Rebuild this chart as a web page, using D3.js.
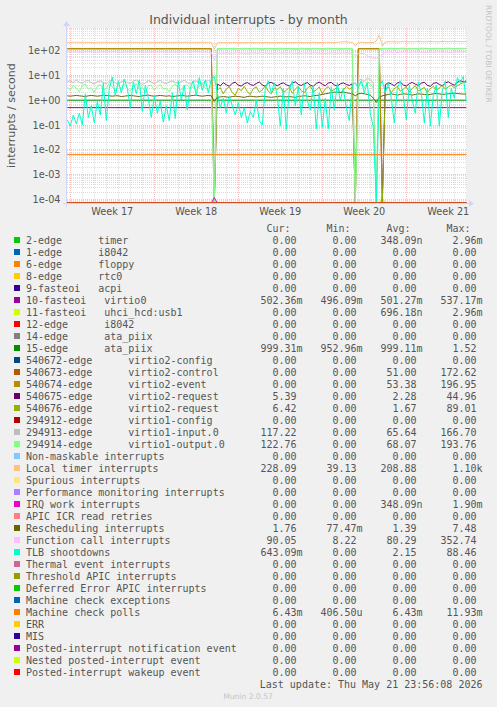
<!DOCTYPE html>
<html><head><meta charset="utf-8">
<script src="https://cdn.jsdelivr.net/npm/d3@7"></script>
<style>
html,body{margin:0;padding:0;background:#F0F0F0;}
svg{display:block;}
text{white-space:pre;}
</style></head><body>
<svg id="chart" width="497" height="707"></svg>
<script>
// ---------- time axis ----------
const xDomain = [new Date(2026,3,18,17,24), new Date(2026,4,22,1,26)];
const T0 = new Date(2026,3,18,18,0,0);   // first sample
const STEP_HOURS = 6;                     // sample spacing
const weekStarts = [new Date(2026,3,19), new Date(2026,3,26), new Date(2026,4,3), new Date(2026,4,10), new Date(2026,4,17)];
const weekLabels = ["Week 17","Week 18","Week 19","Week 20","Week 21"];
const yTickValues = [1e2,1e1,1,1e-1,1e-2,1e-3,1e-4];
const yTickLabels = ["1e+02","1e+01","1e+00","1e-01","1e-02","1e-03","1e-04"];

// ---------- sampled series (index = sample number, 134 samples) ----------
const tlbShootdowns = [
 0.16,0.09,0.25,0.11,0.3,0.1,1.8,0.2,0.6,0.12, 0.9,0.25,5.0,0.15,3.0,8.5,1.5,6.0,2.0,7.0,
 3.0,0.5,5.5,1.8,6.5,0.35,4.0,1.2,0.2,1.5, 0.3,0.9,0.13,0.6,0.15,2.0,0.18,6.0,1.0,4.0,
 0.4,3.0,6.0,1.5,8.0,2.5,6.5,2.0,7.0,
 9.0,
 2.0,0.5,1.2,0.3,1.5,0.6,0.25,0.8,0.2,0.5, 0.12,0.35,0.2,1.0,0.15,0.1,3.0,6.0,2.0,5.0,
 1.5,0.09,3.0,0.065,2.5,6.0,0.6,3.5,0.25,5.0, 1.0,0.4,4.0,0.07,2.0,0.08,1.2,0.07,3.5,0.4,
 5.0,1.0,3.0,0.5,0.15,4.0,
 5.0,
 3.0,6.0,2.0,5.0,0.3,0.08,0,3.5,
 6.0,
 2.0,5.0,1.2,0.12,3.0,6.0,1.5,0.16,4.0,1.0, 0.3,5.5,2.0,0.12,3.0,0.09,1.5,4.0,0.09,2.5,
 6.0,0.2,3.0,1.2,8.0,5.0,9.0,0.9
];
const localTimer = [
 215,213,214,216,212,213,215,214,212,211, 213,215,216,214,213,212,214,215,213,212,
 214,216,215,213,212,214,213,215,216,214, 212,213,215,214,213,212,214,215,213,214,
 216,215,213,212,214,213,215,214,212,
 110,
 205,208,210,207,206,209,211,208,206,207, 210,212,209,207,206,208,211,210,207,206,
 209,212,210,208,207,209,211,213,210,208, 209,212,214,211,209,210,213,215,212,210,
 214,220,225,222,218,216,
 150,
 212,215,210,208,211,209,240,420,
 150,
 222,225,228,224,221,226,230,227,223,225, 229,231,227,224,226,230,228,225,227,231,
 229,226,228,232,230,227,229,228
];
const functionCall = [
 88,87,89,88,86,87,89,90,88,87, 86,88,89,87,88,90,89,87,86,88,
 89,88,87,89,90,88,87,86,88,89, 87,88,90,89,87,88,86,87,89,88,
 87,88,90,89,87,86,88,87,85,
 40,
 78,77,79,78,76,77,79,80,78,77, 76,78,79,77,78,80,79,77,76,78,
 79,78,77,79,80,78,77,76,78,79, 77,78,80,79,77,78,76,77,79,78,
 77,78,80,79,77,78,
 60,
 75,76,74,60,52,50,48,55,
 70,
 84,85,86,84,83,85,87,86,84,85, 86,88,85,84,86,87,85,84,86,88,
 87,85,86,88,89,87,88,90
];
const rescheduling = [
 1.5,1.45,1.5,1.55,1.5,1.45,1.4,1.5,1.55,1.5, 1.45,1.5,1.6,1.55,1.5,1.45,1.5,1.5,1.4,1.45,
 1.5,1.55,1.5,1.45,1.4,1.5,1.55,1.6,1.5,1.45, 1.5,1.55,1.5,1.45,1.5,1.4,1.45,1.5,1.55,1.5,
 1.45,1.5,1.55,1.6,1.5,1.45,1.5,1.55,1.5,
 0.9,
 1.3,1.35,1.4,1.35,1.3,1.4,1.45,1.4,1.35,1.3, 1.4,1.45,1.4,1.35,1.4,1.45,1.4,1.35,1.3,1.35,
 1.4,1.45,1.4,1.35,1.4,1.35,1.3,1.4,1.45,1.5, 1.45,1.4,1.5,1.55,1.6,1.7,1.8,1.9,2.0,2.1,
 2.1,2.0,2.1,2.0,1.9,1.8,
 1.5,
 1.8,1.9,1.8,1.7,1.6,1.2,0.8,1.3,
 1.5,
 1.6,1.7,1.8,1.7,1.6,1.7,1.8,1.75,1.7,1.6, 1.7,1.8,1.75,1.7,1.65,1.7,1.8,1.85,1.8,1.7,
 1.75,1.8,1.85,1.9,1.85,1.8,1.75,1.76
];
const virtio1Input = [
 5.5,6.0,5.0,6.5,5.2,4.8,5.8,6.2,5.0,4.5, 5.5,6.0,5.2,4.6,5.8,6.3,5.0,4.4,5.6,6.0,
 5.1,4.7,5.9,6.4,5.3,4.2,5.0,6.1,5.4,4.5, 5.7,6.2,5.0,4.6,5.5,6.0,5.2,4.8,5.6,6.3,
 5.1,4.4,5.8,6.0,5.0,4.7,5.5,6.2,5.3,
 0,
 115,113,116,114,117,115,112,116,114,115, 117,113,115,116,114,112,115,117,116,114,
 113,115,116,114,117,115,113,114,116,115, 112,114,116,117,115,113,114,116,115,117,
 114,113,115,116,114,115,
 0,
 6,7,5.5,8,6.5,5,0,112,
 115,
 116,115,117,114,116,118,115,114,116,117, 115,113,116,118,117,115,114,116,117,115,
 116,118,117,115,116,118,117,117.22
];
const virtio1Output = [
 3.5,2.5,4.0,3.0,2.2,3.8,4.5,2.8,3.2,2.0, 3.6,4.2,2.6,3.0,4.8,3.4,2.4,3.9,2.9,4.4,
 3.1,2.3,3.7,4.6,2.7,3.3,2.1,3.8,4.0,2.5, 3.4,4.3,2.8,3.0,2.2,3.6,4.5,3.2,2.6,3.9,
 4.1,2.9,3.5,2.4,3.7,4.4,3.0,2.7,3.8,
 0,
 121,120,122,121,119,121,123,120,121,122, 120,121,123,122,120,119,121,122,121,120,
 122,123,121,120,121,122,120,121,123,122, 121,120,122,121,119,121,122,123,121,120,
 122,121,120,122,121,122,
 0,
 4,6,3,5.5,4.5,3,0,120,
 121,
 122,121,123,122,120,122,124,121,122,123, 121,122,124,123,121,120,122,123,122,121,
 123,124,122,121,122,123,122,122.76
];
const virtio2Request675 = [
 0,0,0,0,0,0,0,0,0,0, 0,0,0,0,0,0,0,0,0,0, 0,0,0,0,0,0,0,0,0,0, 0,0,0,0,0,0,0,0,0,0,
 0,0,0,0,0,0,0,0,0,
 0,
 4.5,3.8,5.0,4.2,3.6,4.8,5.3,4.0,3.7,4.6, 5.1,4.3,3.9,4.7,5.4,4.1,3.6,4.9,5.2,4.4,
 3.8,4.5,5.0,4.2,3.7,4.8,5.5,4.3,3.9,4.6, 5.1,4.0,3.6,4.7,5.3,4.4,3.8,4.9,5.2,4.1,
 3.7,4.5,5.0,4.3,3.9,4.6,
 0,
 0,0,0,0,0,0,0,0,
 0,
 4.2,5.0,4.5,3.8,4.9,5.4,4.1,3.7,4.6,5.2, 4.4,3.9,4.8,5.3,4.0,3.6,4.7,5.1,4.3,3.8,
 4.9,5.5,4.6,4.0,5.2,6.0,5.6,5.39
];
const virtio2Request676 = [
 0,0,0,0,0,0,0,0,0,0, 0,0,0,0,0,0,0,0,0,0, 0,0,0,0,0,0,0,0,0,0, 0,0,0,0,0,0,0,0,0,0,
 0,0,0,0,0,0,0,0,0,
 0,
 2.5,3.2,1.8,2.8,3.5,2.0,1.6,3.0,2.4,3.6, 2.2,1.7,2.9,3.4,2.1,2.6,3.8,2.3,1.8,3.1,
 2.7,3.5,2.0,2.5,3.3,1.9,2.8,3.6,2.4,2.0, 3.0,3.7,2.2,2.6,3.4,1.8,2.9,3.5,2.3,2.7,
 3.2,2.0,2.5,3.6,2.8,3.3,
 0,
 0,0,0,0,0,0,0,0,
 0,
 2.6,3.4,2.0,2.9,3.6,2.3,2.8,3.5,2.1,3.0, 3.8,2.4,2.7,3.3,2.0,2.9,3.6,2.5,3.1,3.9,
 2.8,3.4,4.0,3.2,3.8,4.5,5.0,6.42
];

// ---------- piecewise series as [sample, value] breakpoints ----------
const flatZero        = [[0,0],[133,0]];
const virtio0         = [[0,0.5],[133,0.5]];
const ataPiix15       = [[0,1.0],[133,1.0]];
const mcePolls        = [[0,0.0064],[133,0.0064]];
const virtio2Control  = [[0,116],[48,116],[49,0],[96,0],[97,116],[104,116],[105,0],[133,0]];
const virtio2Event    = [[0,121],[48,121],[49,0],[96,0],[97,121],[104,121],[105,0],[133,0]];
const irqWork         = [[0,0],[48,0],[49,0.00012],[50,0],[133,0]];
const uhciUsb1        = [[0,0],[104,0],[105,0.00012],[106,0],[133,0]];

// ---------- legend ----------
const seriesNames = [
 "2-edge      timer","1-edge      i8042","6-edge      floppy","8-edge      rtc0","9-fasteoi   acpi",
 "10-fasteoi   virtio0","11-fasteoi   uhci_hcd:usb1","12-edge      i8042","14-edge      ata_piix","15-edge      ata_piix",
 "540672-edge      virtio2-config","540673-edge      virtio2-control","540674-edge      virtio2-event",
 "540675-edge      virtio2-request","540676-edge      virtio2-request","294912-edge      virtio1-config",
 "294913-edge      virtio1-input.0","294914-edge      virtio1-output.0","Non-maskable interrupts",
 "Local timer interrupts","Spurious interrupts","Performance monitoring interrupts","IRQ work interrupts",
 "APIC ICR read retries","Rescheduling interrupts","Function call interrupts","TLB shootdowns",
 "Thermal event interrupts","Threshold APIC interrupts","Deferred Error APIC interrupts",
 "Machine check exceptions","Machine check polls","ERR","MIS","Posted-interrupt notification event",
 "Nested posted-interrupt event","Posted-interrupt wakeup event"
];
const seriesColors = [
 "#00CC00","#0066B3","#FF8000","#FFCC00","#330099","#990099","#CCFF00","#FF0000","#808080","#008F00",
 "#00487D","#B35A00","#B38F00","#6B006B","#8FB300","#B30000","#BEBEBE","#80FF80","#80C9FF","#FFC080",
 "#FFE680","#AA80FF","#EE00CC","#FF8080","#666600","#FFBFFF","#00FFCC","#CC6699","#999900","#00CC00",
 "#0066B3","#FF8000","#FFCC00","#330099","#990099","#CCFF00","#FF0000"
];
const curVals = ["0.00","0.00","0.00","0.00","0.00","502.36m","0.00","0.00","0.00","999.31m","0.00","0.00","0.00","5.39","6.42","0.00","117.22","122.76","0.00","228.09","0.00","0.00","0.00","0.00","1.76","90.05","643.09m","0.00","0.00","0.00","0.00","6.43m","0.00","0.00","0.00","0.00","0.00"];
const minVals = ["0.00","0.00","0.00","0.00","0.00","496.09m","0.00","0.00","0.00","952.96m","0.00","0.00","0.00","0.00","0.00","0.00","0.00","0.00","0.00","39.13","0.00","0.00","0.00","0.00","77.47m","8.22","0.00","0.00","0.00","0.00","0.00","406.50u","0.00","0.00","0.00","0.00","0.00"];
const avgVals = ["348.09n","0.00","0.00","0.00","0.00","501.27m","696.18n","0.00","0.00","999.11m","0.00","51.00","53.38","2.28","1.67","0.00","65.64","68.07","0.00","208.88","0.00","0.00","348.09n","0.00","1.39","80.29","2.15","0.00","0.00","0.00","0.00","6.43m","0.00","0.00","0.00","0.00","0.00"];
const maxVals = ["2.96m","0.00","0.00","0.00","0.00","537.17m","2.96m","0.00","0.00","1.52","0.00","172.62","196.95","44.96","89.01","0.00","166.70","193.76","0.00","1.10k","0.00","0.00","1.90m","0.00","7.48","352.74","88.46","0.00","0.00","0.00","0.00","11.93m","0.00","0.00","0.00","0.00","0.00"];
const columnHeaders = ["Cur:","Min:","Avg:","Max:"];

// data for each legend row (in drawing order)
const seriesData = [
 flatZero, flatZero, flatZero, flatZero, flatZero,
 virtio0, uhciUsb1, flatZero, flatZero, ataPiix15,
 flatZero, virtio2Control, virtio2Event, virtio2Request675, virtio2Request676, flatZero,
 virtio1Input, virtio1Output, flatZero, localTimer, flatZero, flatZero, irqWork, flatZero,
 rescheduling, functionCall, tlbShootdowns, flatZero, flatZero, flatZero, flatZero, mcePolls,
 flatZero, flatZero, flatZero, flatZero, flatZero
];

// ---------- drawing ----------
const FONT = "#555555";
const svg = d3.select("#chart");
const X0 = 67, X1 = 467, Y0 = 28, Y1 = 203;
const x = d3.scaleTime().domain(xDomain).range([X0, X1]);
const y = d3.scaleLog().domain([1e-4, 1e2]).range([199.5, 50.5]);
const tOf = i => new Date(T0.getTime() + i * STEP_HOURS * 3600e3);
const yPix = v => v > 0 ? Math.max(Y0 - 3, Math.min(Y1, y(v))) : Y1;
const snap = p => Math.floor(p) + 0.5;

svg.append("rect").attr("width", 497).attr("height", 707).attr("fill", "#F0F0F0");
svg.append("rect").attr("x", X0).attr("y", Y0).attr("width", X1 - X0).attr("height", Y1 - Y0).attr("fill", "#FFFFFF");

const grid = svg.append("g");
const minorStyle = sel => sel.attr("stroke", "#8F8F8F").attr("stroke-opacity", 0.3).attr("stroke-dasharray", "1,1");
const majorStyle = sel => sel.attr("stroke", "#DE4F4F").attr("stroke-opacity", 0.35).attr("stroke-dasharray", "1,1");

// horizontal minor
const minorY = [];
for (let k = -5; k <= 2; k++) for (let m = 2; m <= 9; m++) {
  const v = m * Math.pow(10, k); const p = y(v);
  if (p >= Y0 && p <= Y1) minorY.push(p);
}
grid.selectAll("line.hmin").data(minorY).join("line").attr("class", "hmin")
  .attr("x1", X0).attr("x2", X1).attr("y1", d => snap(d)).attr("y2", d => snap(d)).call(minorStyle);
// vertical minor (days)
const days = d3.timeDay.range(xDomain[0], xDomain[1]).filter(d => d.getDay() !== 0);
grid.selectAll("line.vmin").data(days).join("line").attr("class", "vmin")
  .attr("x1", d => snap(x(d))).attr("x2", d => snap(x(d))).attr("y1", Y0).attr("y2", Y1).call(minorStyle);
// majors
grid.selectAll("line.hmaj").data(yTickValues).join("line").attr("class", "hmaj")
  .attr("x1", X0).attr("x2", X1).attr("y1", d => snap(y(d))).attr("y2", d => snap(y(d))).call(majorStyle);
grid.selectAll("line.vmaj").data(weekStarts).join("line").attr("class", "vmaj")
  .attr("x1", d => snap(x(d))).attr("x2", d => snap(x(d))).attr("y1", Y0).attr("y2", Y1).call(majorStyle);

// axes
const AX = "#CFD6F8";
svg.append("line").attr("x1", X0 - 4).attr("x2", X1 + 4).attr("y1", Y1 + 0.5).attr("y2", Y1 + 0.5).attr("stroke", AX);
svg.append("line").attr("x1", X0 - 0.5).attr("x2", X0 - 0.5).attr("y1", Y1 + 4).attr("y2", Y0 - 4).attr("stroke", AX);
svg.append("path").attr("d", `M${X1 + 2},${Y1 - 3}L${X1 + 2},${Y1 + 4}L${X1 + 7},${Y1 + 0.5}Z`).attr("fill", AX);
svg.append("path").attr("d", `M${X0 - 4},${Y0 - 2}L${X0 + 3},${Y0 - 2}L${X0 - 0.5},${Y0 - 7}Z`).attr("fill", AX);

// data lines
svg.append("clipPath").attr("id", "clip").append("rect")
  .attr("x", X0).attr("y", Y0).attr("width", X1 - X0).attr("height", Y1 - Y0);
const lines = svg.append("g").attr("clip-path", "url(#clip)");
const lineGen = d3.line().x(d => x(tOf(d[0]))).y(d => yPix(d[1]));
seriesData.forEach((arr, i) => {
  const pts = Array.isArray(arr[0]) ? arr : arr.map((v, j) => [j, v]);
  lines.append("path").attr("d", lineGen(pts)).attr("fill", "none")
    .attr("stroke", seriesColors[i]).attr("stroke-width", 1).attr("stroke-linejoin", "round");
});

// axis labels
svg.selectAll("text.yt").data(yTickValues).join("text").attr("class", "yt")
  .attr("x", 60.5).attr("y", d => y(d) + 3.6).attr("text-anchor", "end")
  .attr("font-family", "DejaVu Sans").attr("font-size", 9.7).attr("fill", FONT)
  .text((d, i) => yTickLabels[i]);
svg.selectAll("text.xt").data(weekStarts).join("text").attr("class", "xt")
  .attr("x", d => x(new Date(d.getTime() + 3.5 * 86400e3))).attr("y", 215).attr("text-anchor", "middle")
  .attr("font-family", "DejaVu Sans").attr("font-size", 9.7).attr("fill", FONT)
  .text((d, i) => weekLabels[i]);

// title, vertical label, watermark
svg.append("text").attr("x", 248.5).attr("y", 24).attr("text-anchor", "middle")
  .attr("font-family", "DejaVu Sans").attr("font-size", 12.5).attr("fill", FONT)
  .text("Individual interrupts - by month");
svg.append("text").attr("transform", "translate(15,115.5) rotate(-90)").attr("text-anchor", "middle")
  .attr("font-family", "DejaVu Sans").attr("font-size", 11.1).attr("fill", FONT)
  .text("interrupts / second");
svg.append("text").attr("transform", "translate(485.5,5) rotate(90)").attr("text-anchor", "start")
  .attr("font-family", "DejaVu Sans").attr("font-size", 7.6).attr("fill", "#C4C4C4")
  .text("RRDTOOL / TOBI OETIKER");

// legend
const MONO = "DejaVu Sans Mono";
const colX = [260.5, 320.5, 380.5, 440.5];
const fmt = s => { const m = s.match(/^([\d.]+)([a-zA-Z]?)$/); return m[1].padStart(6, " ") + (m[2] || " "); };
columnHeaders.forEach((h, c) => svg.append("text").attr("x", colX[c] + 6).attr("y", 231.5)
  .attr("font-family", MONO).attr("font-size", 10).attr("fill", FONT).text(h));
const leg = svg.append("g");
seriesNames.forEach((name, i) => {
  const by = 243.5 + 12 * i;
  leg.append("rect").attr("x", 14).attr("y", by - 6.5).attr("width", 6).attr("height", 6).attr("fill", seriesColors[i]);
  leg.append("text").attr("x", 26).attr("y", by).attr("font-family", MONO).attr("font-size", 10).attr("fill", FONT).text(name);
  [curVals, minVals, avgVals, maxVals].forEach((col, c) => {
    leg.append("text").attr("x", colX[c]).attr("y", by).attr("font-family", MONO).attr("font-size", 10)
      .attr("fill", FONT).text(fmt(col[i]));
  });
});
svg.append("text").attr("x", 482.5).attr("y", 687.5).attr("text-anchor", "end")
  .attr("font-family", MONO).attr("font-size", 10).attr("fill", FONT)
  .text("Last update: Thu May 21 23:56:08 2026");
svg.append("text").attr("x", 248).attr("y", 699).attr("text-anchor", "middle")
  .attr("font-family", "DejaVu Sans").attr("font-size", 7.6).attr("fill", "#C4C4C4")
  .text("Munin 2.0.57");
</script>
</body></html>
